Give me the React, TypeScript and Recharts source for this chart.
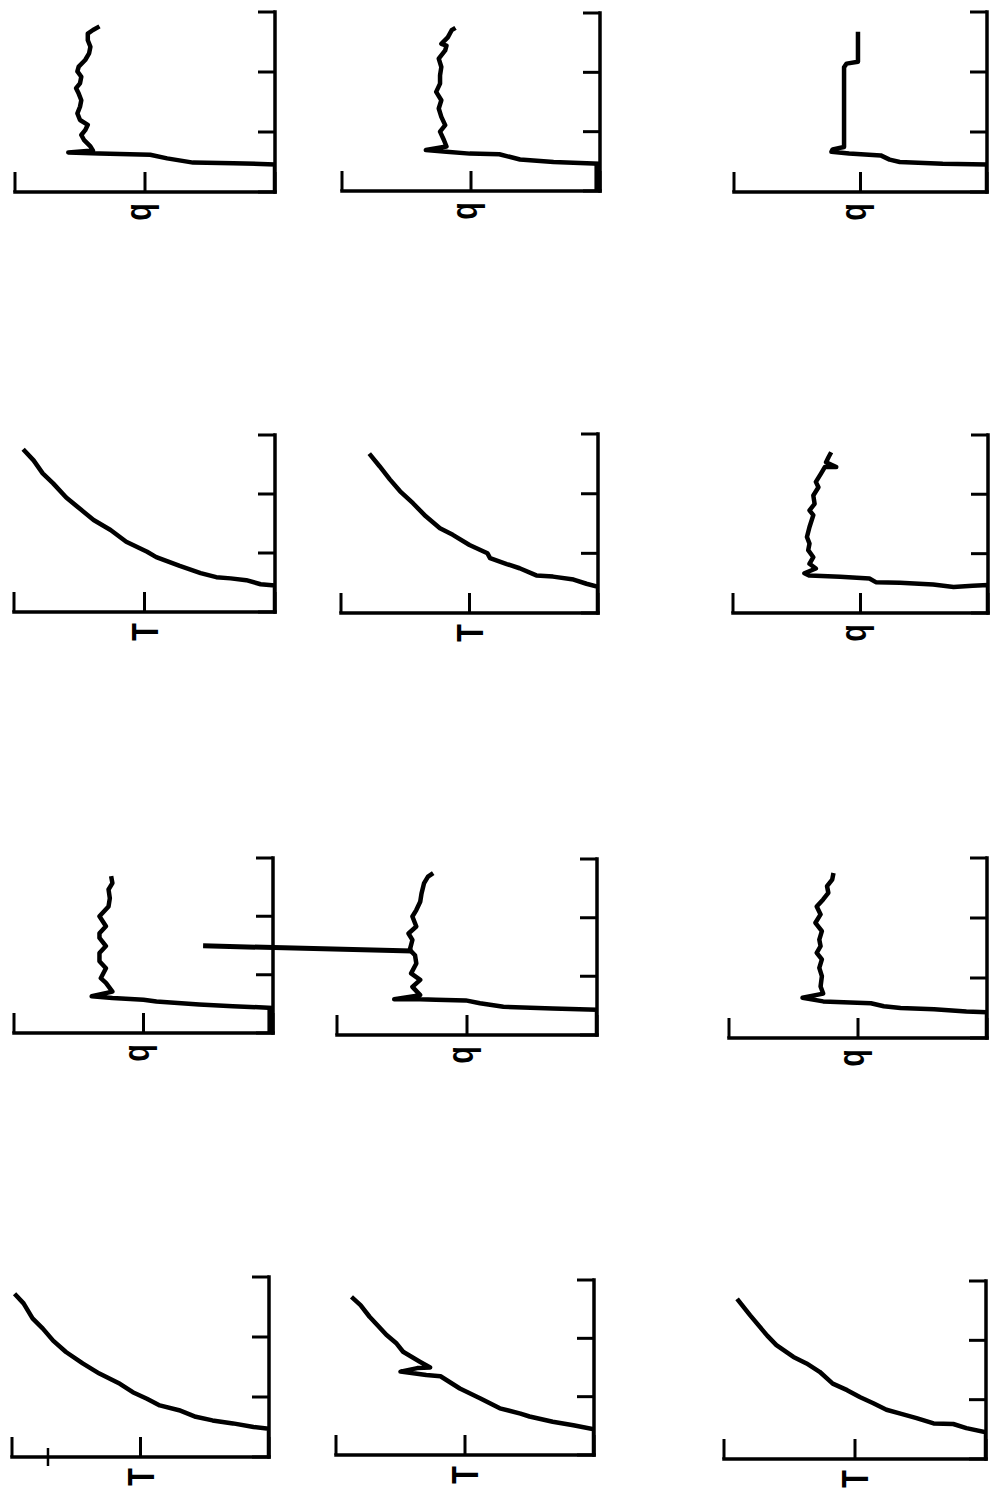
import React from 'react';
import { LineChart, Line, XAxis, YAxis, ReferenceLine } from 'recharts';

// the sheet is laid out sideways (1496 wide) and then turned a quarter left
const SHEET_W = 1496;
const SHEET_H = 998;

const T_TICKS = [0, 1, 2, 3];
const V_TICKS = [0, 1, 2];

// [t, value] pairs
const qA = [[0, 0], [0.46, 0], [0.48, 0.32], [0.49, 0.63], [0.56, 0.83], [0.62, 0.96], [0.64, 1.35], [0.66, 1.59], [0.69, 1.4], [0.76, 1.42], [0.87, 1.47], [0.95, 1.49], [1.03, 1.46], [1.12, 1.44], [1.2, 1.5], [1.31, 1.52], [1.42, 1.5], [1.53, 1.49], [1.64, 1.51], [1.73, 1.53], [1.81, 1.5], [1.92, 1.49], [2.01, 1.52], [2.09, 1.51], [2.2, 1.46], [2.31, 1.43], [2.42, 1.42], [2.53, 1.44], [2.64, 1.44], [2.7, 1.4], [2.76, 1.35]];
const qB = [[0, 0], [0.46, 0], [0.49, 0.36], [0.53, 0.62], [0.62, 0.78], [0.63, 1.01], [0.66, 1.19], [0.69, 1.35], [0.75, 1.19], [0.86, 1.21], [1.0, 1.24], [1.11, 1.2], [1.25, 1.23], [1.39, 1.25], [1.53, 1.23], [1.67, 1.27], [1.81, 1.24], [1.95, 1.24], [2.09, 1.23], [2.23, 1.25], [2.37, 1.2], [2.45, 1.19], [2.48, 1.23], [2.59, 1.18], [2.71, 1.15], [2.75, 1.12]];
const qC = [[0, 0], [0.46, 0], [0.47, 0.35], [0.5, 0.69], [0.54, 0.77], [0.61, 0.84], [0.64, 1.09], [0.67, 1.23], [0.71, 1.22], [0.75, 1.13], [1.08, 1.13], [1.53, 1.13], [2.08, 1.13], [2.14, 1.11], [2.17, 1.02], [2.67, 1.02]];
const tA = [[0, 0], [0.45, 0], [0.47, 0.11], [0.54, 0.22], [0.57, 0.34], [0.59, 0.45], [0.66, 0.57], [0.78, 0.73], [0.93, 0.91], [1.02, 0.98], [1.19, 1.14], [1.39, 1.26], [1.56, 1.39], [1.74, 1.49], [1.94, 1.6], [2.18, 1.7], [2.35, 1.78], [2.57, 1.85], [2.76, 1.93]];
const tB = [[0, 0], [0.44, 0], [0.49, 0.09], [0.56, 0.19], [0.61, 0.35], [0.63, 0.48], [0.75, 0.61], [0.82, 0.71], [0.92, 0.84], [1.0, 0.86], [1.03, 0.89], [1.14, 1.0], [1.31, 1.13], [1.42, 1.23], [1.62, 1.34], [1.84, 1.44], [2.04, 1.54], [2.24, 1.62], [2.46, 1.7], [2.67, 1.78]];
const qD = [[0, 0], [0.47, 0], [0.46, 0.12], [0.44, 0.27], [0.48, 0.43], [0.51, 0.69], [0.52, 0.88], [0.58, 0.93], [0.61, 1.16], [0.63, 1.4], [0.67, 1.44], [0.75, 1.35], [0.83, 1.4], [0.94, 1.37], [1.06, 1.41], [1.17, 1.4], [1.28, 1.42], [1.45, 1.4], [1.65, 1.37], [1.73, 1.4], [1.84, 1.36], [1.98, 1.37], [2.12, 1.33], [2.21, 1.35], [2.35, 1.31], [2.46, 1.28], [2.46, 1.19], [2.54, 1.27], [2.63, 1.25], [2.71, 1.23]];
const qE = [[0, 0], [0.43, 0], [0.46, 0.31], [0.49, 0.57], [0.54, 0.9], [0.57, 1.0], [0.6, 1.24], [0.63, 1.4], [0.71, 1.24], [0.86, 1.29], [0.94, 1.33], [1.11, 1.29], [1.23, 1.34], [1.37, 1.34], [1.49, 1.29], [1.63, 1.34], [1.71, 1.34], [1.83, 1.29], [2.0, 1.34], [2.17, 1.27], [2.31, 1.26], [2.46, 1.27], [2.57, 1.24], [2.69, 1.25]];
const qF = [[0, 0], [0.43, 0], [0.45, 0.34], [0.48, 0.72], [0.54, 0.9], [0.59, 1.01], [0.6, 1.24], [0.61, 1.36], [0.61, 1.56], [0.68, 1.36], [0.82, 1.42], [0.94, 1.36], [1.05, 1.43], [1.22, 1.39], [1.36, 1.4], [1.45, 1.44], [1.62, 1.42], [1.73, 1.45], [1.85, 1.39], [2.02, 1.42], [2.13, 1.39], [2.27, 1.36], [2.41, 1.35], [2.59, 1.33], [2.7, 1.3], [2.76, 1.26]];
const qG = [[0, 0], [0.43, 0], [0.44, 0.16], [0.48, 0.41], [0.5, 0.67], [0.53, 0.8], [0.58, 0.9], [0.59, 1.06], [0.61, 1.27], [0.67, 1.43], [0.74, 1.27], [0.86, 1.29], [1.03, 1.28], [1.17, 1.3], [1.31, 1.28], [1.42, 1.32], [1.53, 1.29], [1.64, 1.3], [1.78, 1.28], [1.92, 1.33], [2.06, 1.29], [2.19, 1.32], [2.31, 1.27], [2.42, 1.23], [2.53, 1.24], [2.64, 1.2], [2.75, 1.19]];
const tC = [[0, 0], [0.47, 0], [0.5, 0.12], [0.56, 0.28], [0.61, 0.44], [0.67, 0.57], [0.78, 0.7], [0.86, 0.85], [0.97, 0.95], [1.08, 1.06], [1.22, 1.16], [1.39, 1.32], [1.56, 1.45], [1.75, 1.58], [1.94, 1.68], [2.14, 1.76], [2.31, 1.84], [2.56, 1.91], [2.72, 1.98]];
const tD = [[0, 0], [0.44, 0], [0.51, 0.16], [0.57, 0.32], [0.66, 0.5], [0.71, 0.57], [0.8, 0.73], [0.97, 0.88], [1.14, 1.04], [1.35, 1.19], [1.37, 1.3], [1.43, 1.5], [1.49, 1.37], [1.5, 1.27], [1.6, 1.35], [1.77, 1.48], [1.91, 1.53], [2.06, 1.61], [2.23, 1.68], [2.37, 1.74], [2.57, 1.81], [2.71, 1.88]];
const tE = [[0, 0], [0.45, 0], [0.52, 0.15], [0.59, 0.25], [0.6, 0.4], [0.69, 0.53], [0.77, 0.66], [0.83, 0.76], [0.94, 0.86], [1.04, 0.96], [1.16, 1.06], [1.27, 1.17], [1.47, 1.27], [1.61, 1.37], [1.72, 1.47], [1.92, 1.6], [2.08, 1.67], [2.42, 1.8], [2.7, 1.9]];

// stray marks on the scan: [t, value] end points
const barSegment = [[1.52, 3.03], [1.43, 1.42]];
const crossTick = [[-0.15, 1.72], [0.15, 1.72]];
const heavyFoot = [[0, 0.02], [0.44, 0.02]];

// frame of each panel in page pixels: p0 = right axis x, p2 = far end x, t0 = lower axis y, t3 = top y
const panels = [
  { id: 'a', pts: qA, label: 'q', f: { p0: 275, p2: 15, t0: 192, t3: 12 } },
  { id: 'b', pts: qB, label: 'q', f: { p0: 600, p2: 342, t0: 191, t3: 13 }, foot: true },
  { id: 'c', pts: qC, label: 'q', f: { p0: 987, p2: 734, t0: 192, t3: 12 } },
  { id: 'd', pts: tA, label: 'T', f: { p0: 275, p2: 14, t0: 612, t3: 435 } },
  { id: 'e', pts: tB, label: 'T', f: { p0: 598, p2: 341, t0: 613, t3: 434 } },
  { id: 'f', pts: qD, label: 'q', f: { p0: 988, p2: 733, t0: 613, t3: 435 } },
  { id: 'g', pts: qE, label: 'q', f: { p0: 273, p2: 14, t0: 1033, t3: 858 }, foot: true },
  { id: 'h', pts: qF, label: 'q', f: { p0: 597, p2: 337, t0: 1035, t3: 859 }, bar: true },
  { id: 'i', pts: qG, label: 'q', f: { p0: 987, p2: 729, t0: 1038, t3: 858 } },
  { id: 'j', pts: tC, label: 'T', f: { p0: 269, p2: 12, t0: 1457, t3: 1277 }, cross: true },
  { id: 'k', pts: tD, label: 'T', f: { p0: 594, p2: 336, t0: 1455, t3: 1280 } },
  { id: 'l', pts: tE, label: 'T', f: { p0: 986, p2: 724, t0: 1459, t3: 1281 } },
];

const seg = (s: number[][]) => s.map(([x, y]) => ({ x, y }));

// tick marks only, no numbers
const NoLabel = () => null;

function AxisLetter({ viewBox, text }: any) {
  if (!viewBox) return null;
  const fs = 37;
  const cx = viewBox.x - 20;
  const cy = viewBox.y + viewBox.height / 2 + (text === 'T' ? 0.36 : 0.155) * fs;
  return (
    <text transform={`translate(${cx},${cy}) scale(0.78,1)`} textAnchor="middle" fontSize={fs}
      fontWeight="bold" fontFamily="'Liberation Sans', Arial, sans-serif" fill="#000">{text}</text>
  );
}

function Panel({ p }: any) {
  const pad = 40;
  const top = p.bar ? 160 : pad;
  const w = p.f.t0 - p.f.t3;
  const h = p.f.p0 - p.f.p2;
  const data = p.pts.map(([t, v]: number[]) => ({ t, v }));
  const axisLine = { stroke: '#000', strokeWidth: 3.5, strokeLinecap: 'square' as const };
  const tickLine = { stroke: '#000', strokeWidth: 3 };
  return (
    <div style={{ position: 'absolute', left: SHEET_W - p.f.t0 - pad, top: p.f.p2 - top }}>
      <LineChart width={w + pad * 2} height={h + top + pad} data={data}
        margin={{ top, right: pad, bottom: pad, left: pad }}>
        <XAxis type="number" dataKey="t" domain={[0, 3]} ticks={T_TICKS} allowDataOverflow mirror
          tick={NoLabel} tickSize={17} axisLine={axisLine} tickLine={tickLine} />
        <YAxis type="number" domain={[0, 2]} ticks={V_TICKS} allowDataOverflow mirror
          tick={NoLabel} tickSize={20} axisLine={axisLine} tickLine={tickLine} />
        <ReferenceLine x={0} stroke="none" label={<AxisLetter text={p.label} />} />
        {p.foot && <ReferenceLine segment={seg(heavyFoot)} stroke="#000" strokeWidth={6} ifOverflow="visible" />}
        {p.cross && <ReferenceLine segment={seg(crossTick)} stroke="#000" strokeWidth={2.5} ifOverflow="visible" />}
        {p.bar && <ReferenceLine segment={seg(barSegment)} stroke="#000" strokeWidth={5} ifOverflow="visible" />}
        <Line type="linear" dataKey="v" stroke="#000" strokeWidth={4.5} strokeLinejoin="round"
          dot={false} activeDot={false} isAnimationActive={false} />
      </LineChart>
    </div>
  );
}

export default function App() {
  return (
    <div style={{ position: 'absolute', left: 0, top: 0, width: SHEET_H, height: SHEET_W, overflow: 'hidden', background: '#fff' }}>
      <div style={{
        position: 'absolute', left: 0, top: 0, width: SHEET_W, height: SHEET_H,
        transformOrigin: '0 0', transform: `translate(0px, ${SHEET_W}px) rotate(-90deg)`,
      }}>
        {panels.map((p) => <Panel key={p.id} p={p} />)}
      </div>
    </div>
  );
}
